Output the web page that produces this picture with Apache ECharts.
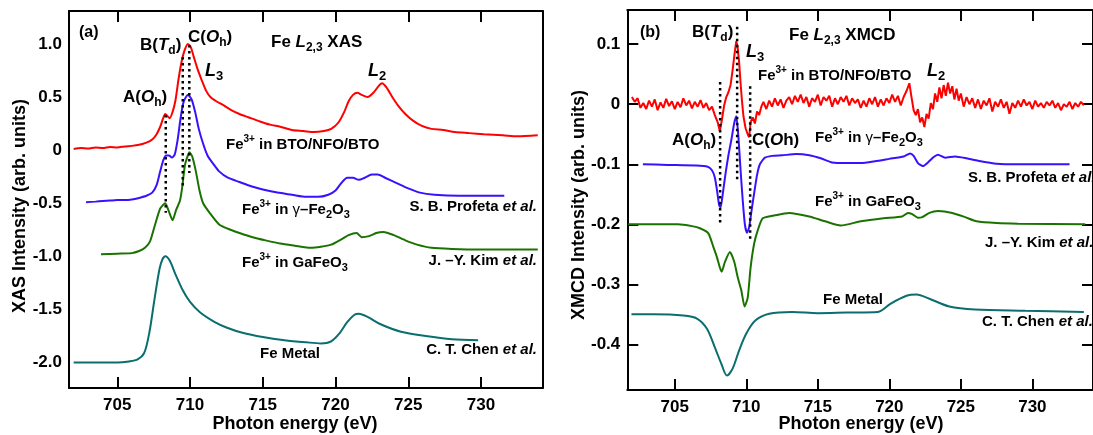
<!DOCTYPE html>
<html>
<head>
<meta charset="utf-8">
<script src="https://cdn.jsdelivr.net/npm/echarts@6/dist/echarts.min.js"></script>
<style>
html,body{margin:0;padding:0;background:#fff;}
#c{width:1093px;height:435px;}
</style>
</head>
<body>
<div id="c"></div>
<script>
// ---------- tick values ----------
const xTicks = [705, 710, 715, 720, 725, 730];
const yTicksA = [-2.0, -1.5, -1.0, -0.5, 0, 0.5, 1.0];
const yTicksB = [-0.4, -0.3, -0.2, -0.1, 0, 0.1];

// ---------- panel (a): XAS  [energy (eV), intensity] ----------
const xasBTO = [[702.0,0.01],[702.5,0.02],[703.0,0.015],[703.5,0.025],[704.0,0.02],[704.5,0.03],[705.0,0.025],[705.5,0.035],[706.0,0.04],[706.5,0.05],[707.0,0.07],[707.4,0.10],[707.7,0.15],[707.95,0.22],[708.15,0.30],[708.3,0.34],[708.45,0.32],[708.6,0.30],[708.8,0.36],[709.0,0.47],[709.2,0.66],[709.4,0.82],[709.6,0.93],[709.85,1.0],[710.05,0.97],[710.25,0.88],[710.5,0.77],[710.8,0.66],[711.1,0.56],[711.4,0.50],[711.8,0.46],[712.2,0.43],[712.8,0.38],[713.4,0.34],[714.0,0.31],[714.8,0.27],[715.5,0.24],[716.2,0.22],[717.0,0.19],[717.8,0.18],[718.5,0.17],[719.2,0.18],[719.7,0.20],[720.2,0.26],[720.6,0.36],[720.9,0.46],[721.2,0.52],[721.5,0.54],[721.8,0.52],[722.2,0.50],[722.6,0.54],[723.0,0.61],[723.2,0.63],[723.5,0.59],[723.9,0.50],[724.3,0.42],[724.8,0.34],[725.3,0.28],[725.9,0.23],[726.6,0.20],[727.4,0.19],[728.2,0.17],[729.2,0.16],[730.2,0.15],[731.5,0.14],[732.5,0.13],[733.9,0.14]];
const xasGammaFe2O3 = [[702.85,-0.49],[703.5,-0.485],[704.0,-0.48],[704.5,-0.475],[705.0,-0.47],[705.5,-0.47],[706.0,-0.465],[706.5,-0.45],[707.0,-0.43],[707.4,-0.40],[707.7,-0.33],[707.95,-0.20],[708.15,-0.10],[708.35,-0.05],[708.55,-0.05],[708.75,-0.07],[708.95,-0.04],[709.15,0.10],[709.35,0.30],[709.55,0.45],[709.85,0.52],[710.1,0.48],[710.35,0.36],[710.6,0.20],[710.9,0.06],[711.2,-0.05],[711.6,-0.13],[712.0,-0.20],[712.6,-0.26],[713.4,-0.30],[714.2,-0.34],[715.0,-0.37],[716.0,-0.40],[717.0,-0.42],[718.0,-0.44],[718.8,-0.44],[719.5,-0.42],[720.0,-0.38],[720.4,-0.31],[720.8,-0.26],[721.2,-0.26],[721.6,-0.28],[722.0,-0.26],[722.5,-0.23],[722.9,-0.23],[723.4,-0.26],[724.2,-0.31],[725.0,-0.36],[725.8,-0.40],[726.8,-0.42],[728.5,-0.43],[730.5,-0.43],[731.6,-0.43]];
const xasGaFeO3 = [[703.88,-0.98],[705.0,-0.975],[706.0,-0.97],[706.5,-0.95],[706.9,-0.92],[707.25,-0.86],[707.6,-0.70],[707.95,-0.55],[708.3,-0.50],[708.55,-0.58],[708.8,-0.66],[709.05,-0.56],[709.3,-0.48],[709.45,-0.36],[709.65,-0.14],[709.85,-0.05],[709.95,-0.02],[710.15,-0.06],[710.4,-0.20],[710.65,-0.38],[710.9,-0.50],[711.4,-0.60],[712.0,-0.70],[712.6,-0.74],[713.4,-0.78],[714.3,-0.82],[715.2,-0.85],[716.2,-0.88],[717.2,-0.90],[718.3,-0.92],[719.0,-0.91],[719.7,-0.89],[720.4,-0.84],[720.9,-0.80],[721.45,-0.78],[721.8,-0.82],[722.3,-0.81],[722.8,-0.78],[723.3,-0.77],[724.0,-0.80],[724.8,-0.85],[725.6,-0.89],[726.6,-0.92],[728.0,-0.93],[730.0,-0.935],[733.9,-0.935]];
const xasFeMetal = [[702.0,-2.0],[703.0,-2.0],[704.0,-2.0],[705.0,-2.0],[705.8,-1.99],[706.4,-1.97],[706.85,-1.91],[707.2,-1.72],[707.55,-1.41],[707.9,-1.12],[708.1,-1.03],[708.3,-1.0],[708.6,-1.04],[709.0,-1.17],[709.5,-1.32],[710.0,-1.43],[710.7,-1.53],[711.7,-1.62],[712.5,-1.67],[713.6,-1.72],[715.0,-1.76],[716.5,-1.79],[718.0,-1.81],[719.0,-1.82],[719.7,-1.80],[720.3,-1.72],[720.8,-1.62],[721.3,-1.55],[721.6,-1.54],[722.2,-1.57],[723.1,-1.64],[724.5,-1.71],[726.2,-1.75],[728.0,-1.78],[729.8,-1.79]];
// dotted guide lines (a): [energy, top, bottom]
const guidesA = [[708.33,0.33,-0.59],[709.5,0.878,-0.356],[709.95,0.99,-0.215]];

// ---------- panel (b): XMCD ----------
const xmcdBTO = [[702.0,0.012],[702.2,0.004],[702.4,0.010],[702.6,-0.006],[702.8,0.002],[703.0,-0.008],[703.2,0.006],[703.4,-0.004],[703.6,0.008],[703.8,-0.010],[704.0,0.003],[704.2,-0.006],[704.4,0.009],[704.6,-0.003],[704.8,0.005],[705.0,-0.008],[705.2,0.004],[705.4,-0.005],[705.6,0.010],[705.8,-0.002],[706.0,0.006],[706.2,-0.007],[706.4,0.004],[706.6,-0.004],[706.8,0.007],[707.0,-0.006],[707.2,0.002],[707.4,-0.010],[707.6,-0.004],[707.8,-0.018],[708.0,-0.030],[708.15,-0.045],[708.3,-0.025],[708.45,-0.002],[708.6,0.012],[708.75,0.020],[708.9,0.032],[709.05,0.058],[709.2,0.088],[709.3,0.105],[709.4,0.094],[709.5,0.070],[709.6,0.035],[709.7,0.005],[709.8,-0.020],[709.95,-0.040],[710.1,-0.050],[710.2,-0.055],[710.3,-0.030],[710.45,-0.022],[710.6,-0.032],[710.75,-0.012],[710.9,-0.018],[711.05,-0.004],[711.2,0.004],[711.4,-0.008],[711.6,0.006],[711.8,-0.004],[712.0,0.010],[712.2,-0.002],[712.4,0.008],[712.6,-0.006],[712.8,0.006],[713.0,0.012],[713.2,0.000],[713.4,0.014],[713.6,0.004],[713.8,0.016],[714.0,0.002],[714.2,0.012],[714.4,-0.004],[714.6,0.010],[714.8,0.004],[715.0,0.016],[715.2,-0.002],[715.4,0.012],[715.6,0.006],[715.8,0.014],[716.0,-0.004],[716.2,0.010],[716.4,0.000],[716.6,0.012],[716.8,0.004],[717.0,0.014],[717.2,-0.002],[717.4,0.010],[717.6,0.002],[717.8,0.008],[718.0,-0.006],[718.2,0.006],[718.4,-0.004],[718.6,0.010],[718.8,0.000],[719.0,0.012],[719.2,-0.004],[719.4,0.008],[719.6,-0.002],[719.8,0.010],[720.0,0.002],[720.2,0.016],[720.4,0.004],[720.6,0.014],[720.8,-0.002],[721.0,0.012],[721.2,0.022],[721.4,0.035],[721.55,0.012],[721.7,-0.010],[721.85,-0.018],[722.0,-0.008],[722.15,-0.030],[722.3,-0.022],[722.45,-0.038],[722.6,-0.016],[722.75,-0.024],[722.9,0.002],[723.05,-0.008],[723.2,0.018],[723.35,0.004],[723.5,0.028],[723.65,0.010],[723.8,0.032],[723.95,0.014],[724.1,0.036],[724.25,0.018],[724.4,0.030],[724.55,0.008],[724.7,0.026],[724.85,0.006],[725.0,0.018],[725.2,-0.004],[725.4,0.012],[725.6,0.000],[725.8,0.010],[726.0,-0.006],[726.2,0.008],[726.4,-0.008],[726.6,0.006],[726.8,-0.002],[727.0,0.010],[727.2,-0.012],[727.4,0.004],[727.6,-0.004],[727.8,0.008],[728.0,-0.006],[728.2,0.004],[728.4,-0.016],[728.6,0.002],[728.8,-0.006],[729.0,0.006],[729.2,-0.004],[729.4,0.008],[729.6,-0.002],[729.8,0.004],[730.0,-0.008],[730.2,0.006],[730.4,-0.004],[730.6,0.002],[730.8,-0.006],[731.0,0.004],[731.2,-0.002],[731.4,0.006],[731.6,-0.006],[731.8,0.002],[732.0,-0.010],[732.2,0.000],[732.4,-0.004],[732.6,0.004],[732.8,-0.008],[733.0,0.002],[733.2,-0.004],[733.4,0.004],[733.6,-0.002]];
const xmcdGammaFe2O3 = [[702.77,-0.100],[704.5,-0.101],[706.5,-0.102],[707.3,-0.104],[707.6,-0.110],[707.8,-0.122],[707.95,-0.143],[708.1,-0.168],[708.2,-0.172],[708.35,-0.150],[708.55,-0.115],[708.75,-0.085],[708.95,-0.060],[709.15,-0.032],[709.3,-0.020],[709.45,-0.055],[709.6,-0.110],[709.75,-0.160],[709.9,-0.200],[710.05,-0.214],[710.2,-0.205],[710.35,-0.180],[710.55,-0.148],[710.75,-0.118],[710.95,-0.100],[711.3,-0.089],[711.8,-0.086],[712.5,-0.085],[713.5,-0.083],[714.4,-0.085],[715.2,-0.090],[716.0,-0.097],[717.0,-0.098],[718.0,-0.098],[719.0,-0.095],[720.0,-0.091],[721.0,-0.087],[721.45,-0.082],[721.7,-0.086],[722.0,-0.098],[722.35,-0.103],[722.7,-0.097],[723.1,-0.088],[723.4,-0.084],[723.9,-0.089],[724.6,-0.087],[725.4,-0.090],[726.2,-0.094],[727.5,-0.099],[729.0,-0.100],[732.6,-0.100]];
const xmcdGaFeO3 = [[701.74,-0.200],[703.0,-0.200],[705.2,-0.200],[706.2,-0.203],[706.8,-0.207],[707.35,-0.215],[707.7,-0.238],[707.95,-0.255],[708.15,-0.272],[708.28,-0.279],[708.5,-0.263],[708.85,-0.246],[709.15,-0.262],[709.4,-0.288],[709.65,-0.310],[709.88,-0.337],[710.1,-0.322],[710.3,-0.272],[710.55,-0.232],[710.8,-0.210],[711.15,-0.190],[712.0,-0.185],[713.0,-0.181],[714.4,-0.187],[715.5,-0.195],[716.6,-0.202],[718.0,-0.195],[719.6,-0.190],[720.9,-0.187],[721.3,-0.181],[721.6,-0.183],[722.0,-0.189],[722.3,-0.188],[722.8,-0.181],[723.4,-0.178],[724.4,-0.181],[725.3,-0.188],[726.1,-0.195],[727.5,-0.198],[729.0,-0.199],[733.7,-0.200]];
const xmcdFeMetal = [[701.97,-0.350],[703.5,-0.350],[705.6,-0.352],[706.55,-0.357],[707.25,-0.374],[707.8,-0.405],[708.25,-0.432],[708.65,-0.452],[709.05,-0.440],[709.5,-0.410],[710.0,-0.382],[710.65,-0.360],[711.6,-0.349],[713.2,-0.346],[715.0,-0.348],[717.0,-0.347],[719.2,-0.346],[720.1,-0.332],[721.2,-0.319],[721.9,-0.317],[722.8,-0.324],[724.2,-0.337],[726.0,-0.342],[729.5,-0.344],[733.6,-0.346]];
const guidesB = [[708.17,0.037,-0.2017],[709.36,0.129,-0.127],[710.27,0.03,-0.23]];

// ---------- styling ----------
const FONT = '"Liberation Sans", Arial, Helvetica, sans-serif';
const RED = '#ff0000', BLUE = '#3a10ff', GREEN = '#1a7300', TEAL = '#0a6e6e';

function xAxisCfg(gi, pos, labels) {
  return {
    type: 'value', gridIndex: gi, position: pos, min: 701.68, max: 734.24,
    axisLine: {show: true, onZero: false, lineStyle: {color: '#000', width: 2}},
    axisTick: {show: true, inside: true, length: 11, lineStyle: {color: '#000', width: 2}, customValues: xTicks},
    axisLabel: {show: labels, customValues: xTicks, margin: 9, color: '#000', fontSize: 17, fontWeight: 'bold', fontFamily: FONT},
    splitLine: {show: false}
  };
}
function yAxisCfg(gi, pos, min, max, ticks, showTick, labels) {
  return {
    type: 'value', gridIndex: gi, position: pos, min: min, max: max,
    axisLine: {show: true, onZero: false, lineStyle: {color: '#000', width: 2}},
    axisTick: {show: showTick, inside: true, length: 11, lineStyle: {color: '#000', width: 2}, customValues: ticks},
    axisLabel: {show: labels, customValues: ticks, margin: 7, color: '#000', fontSize: 17, fontWeight: 'bold', fontFamily: FONT,
      formatter: v => (Math.abs(v) < 1e-9 ? '0' : v.toFixed(1))},
    splitLine: {show: false}
  };
}
function lineSeries(data, color, xi, yi, w, sm) {
  return {type: 'line', data: data, xAxisIndex: xi, yAxisIndex: yi, showSymbol: false, symbol: 'none',
    smooth: sm || false, lineStyle: {color: color, width: w || 2}, silent: true, animation: false, z: 3};
}
function guideSeries(g, xi, yi) {
  return g.map(d => ({type: 'line', data: [[d[0], d[1]], [d[0], d[2]]], xAxisIndex: xi, yAxisIndex: yi,
    showSymbol: false, symbol: 'none', lineStyle: {color: '#000', width: 2.5, type: [2.5, 3.5]}, silent: true, animation: false, z: 4}));
}

const rich = (fs) => ({
  b: {fontSize: fs, fontWeight: 'bold', fontFamily: FONT, fill: '#000', lineHeight: fs + 6},
  bi: {fontSize: fs, fontWeight: 'bold', fontStyle: 'italic', fontFamily: FONT, fill: '#000', lineHeight: fs + 6},
  sup: {fontSize: Math.round(fs * 0.68), fontWeight: 'bold', fontFamily: FONT, fill: '#000', lineHeight: Math.round(fs * 0.68), verticalAlign: 'top'},
  sub: {fontSize: Math.round(fs * 0.72), fontWeight: 'bold', fontFamily: FONT, fill: '#000', lineHeight: Math.round(fs * 0.72), verticalAlign: 'bottom'},
  g: {fontSize: fs, fontFamily: FONT, fill: '#000', lineHeight: fs + 6}
});
function label(txt, x, y, fs, align) {
  return {type: 'text', x: x, y: y, silent: true, z: 10,
    style: {text: txt, rich: rich(fs), textAlign: align || 'left', textVerticalAlign: 'middle', font: 'bold ' + fs + 'px ' + FONT}};
}
function title(txt, x, y, rot) {
  return {type: 'text', x: x, y: y, rotation: rot || 0, silent: true, z: 10,
    style: {text: txt, textAlign: 'center', textVerticalAlign: 'middle', font: 'bold 18px ' + FONT, fill: '#000'}};
}

const graphics = [
  title('XAS Intensity (arb. units)', 20, 206, Math.PI / 2),
  title('XMCD Intensity (arb. units)', 579, 205, Math.PI / 2),
  title('Photon energy (eV)', 295, 424),
  title('Photon energy (eV)', 861, 424),
  // panel (a)
  label('{b|(a)}', 79, 33, 16),
  label('{b|Fe }{bi|L}{sub|2,3}{b| XAS}', 271, 42, 17),
  label('{b|B(}{bi|T}{sub|d}{b|)}', 140, 45, 17),
  label('{b|C(}{bi|O}{sub|h}{b|)}', 188, 37, 17),
  label('{bi|L}{sub|3}', 205, 71, 18),
  label('{b|A(}{bi|O}{sub|h}{b|)}', 123, 97, 17),
  label('{bi|L}{sub|2}', 368, 71, 18),
  label('{b|Fe}{sup|3+}{b| in BTO/NFO/BTO}', 226, 145, 15),
  label('{b|Fe}{sup|3+}{b| in }{g|γ}{b|–Fe}{sub|2}{b|O}{sub|3}', 242, 210, 15),
  label('{b|S. B. Profeta }{bi|et al.}', 537, 207, 15, 'right'),
  label('{b|Fe}{sup|3+}{b| in GaFeO}{sub|3}', 242, 263, 15),
  label('{b|J. –Y. Kim }{bi|et al.}', 537, 261, 15, 'right'),
  label('{b|Fe Metal}', 260, 354, 15),
  label('{b|C. T. Chen }{bi|et al.}', 537, 350, 15, 'right'),
  // panel (b)
  label('{b|(b)}', 640, 33, 16),
  label('{b|B(}{bi|T}{sub|d}{b|)}', 692, 32, 17),
  label('{b|Fe }{bi|L}{sub|2,3}{b| XMCD}', 789, 35, 17),
  label('{bi|L}{sub|3}', 746, 52, 18),
  label('{b|Fe}{sup|3+}{b| in BTO/NFO/BTO}', 758, 76, 15),
  label('{bi|L}{sub|2}', 927, 71, 18),
  label('{b|A(}{bi|O}{sub|h}{b|)}', 672, 140, 17),
  label('{b|C(}{bi|O}{b|h)}', 752, 140, 17),
  label('{b|Fe}{sup|3+}{b| in }{g|γ}{b|–Fe}{sub|2}{b|O}{sub|3}', 815, 138, 15),
  label('{b|S. B. Profeta }{bi|et al.}', 968, 178, 15),
  label('{b|Fe}{sup|3+}{b| in GaFeO}{sub|3}', 815, 202, 15),
  label('{b|J. –Y. Kim }{bi|et al.}', 985, 243, 15),
  label('{b|Fe Metal}', 823, 300, 15),
  label('{b|C. T. Chen }{bi|et al.}', 982, 322, 15)
];

const chart = echarts.init(document.getElementById('c'), null, {renderer: 'canvas'});
chart.setOption({
  animation: false,
  backgroundColor: '#fff',
  grid: [
    {left: 69, top: 11, width: 473.7, height: 377},
    {left: 627.3, top: 10, width: 473.7, height: 380}
  ],
  xAxis: [
    xAxisCfg(0, 'bottom', true), xAxisCfg(0, 'top', false),
    xAxisCfg(1, 'bottom', true), xAxisCfg(1, 'top', false)
  ],
  yAxis: [
    yAxisCfg(0, 'left', -2.24, 1.31, yTicksA, false, true),
    yAxisCfg(0, 'right', -2.24, 1.31, yTicksA, false, false),
    yAxisCfg(1, 'left', -0.476, 0.157, yTicksB, true, true),
    yAxisCfg(1, 'right', -0.476, 0.157, yTicksB, true, false)
  ],
  series: [
    lineSeries(xasBTO, RED, 0, 0, 2, 0.25),
    lineSeries(xasGammaFe2O3, BLUE, 0, 0, 2, 0.25),
    lineSeries(xasGaFeO3, GREEN, 0, 0, 2, 0.2),
    lineSeries(xasFeMetal, TEAL, 0, 0, 2, 0.3),
    ...guideSeries(guidesA, 0, 0),
    lineSeries(xmcdBTO, RED, 2, 2, 2, false),
    lineSeries(xmcdGammaFe2O3, BLUE, 2, 2, 2, 0.2),
    lineSeries(xmcdGaFeO3, GREEN, 2, 2, 2, 0.2),
    lineSeries(xmcdFeMetal, TEAL, 2, 2, 2, 0.3),
    ...guideSeries(guidesB, 2, 2)
  ],
  graphic: graphics
});
</script>
</body>
</html>
